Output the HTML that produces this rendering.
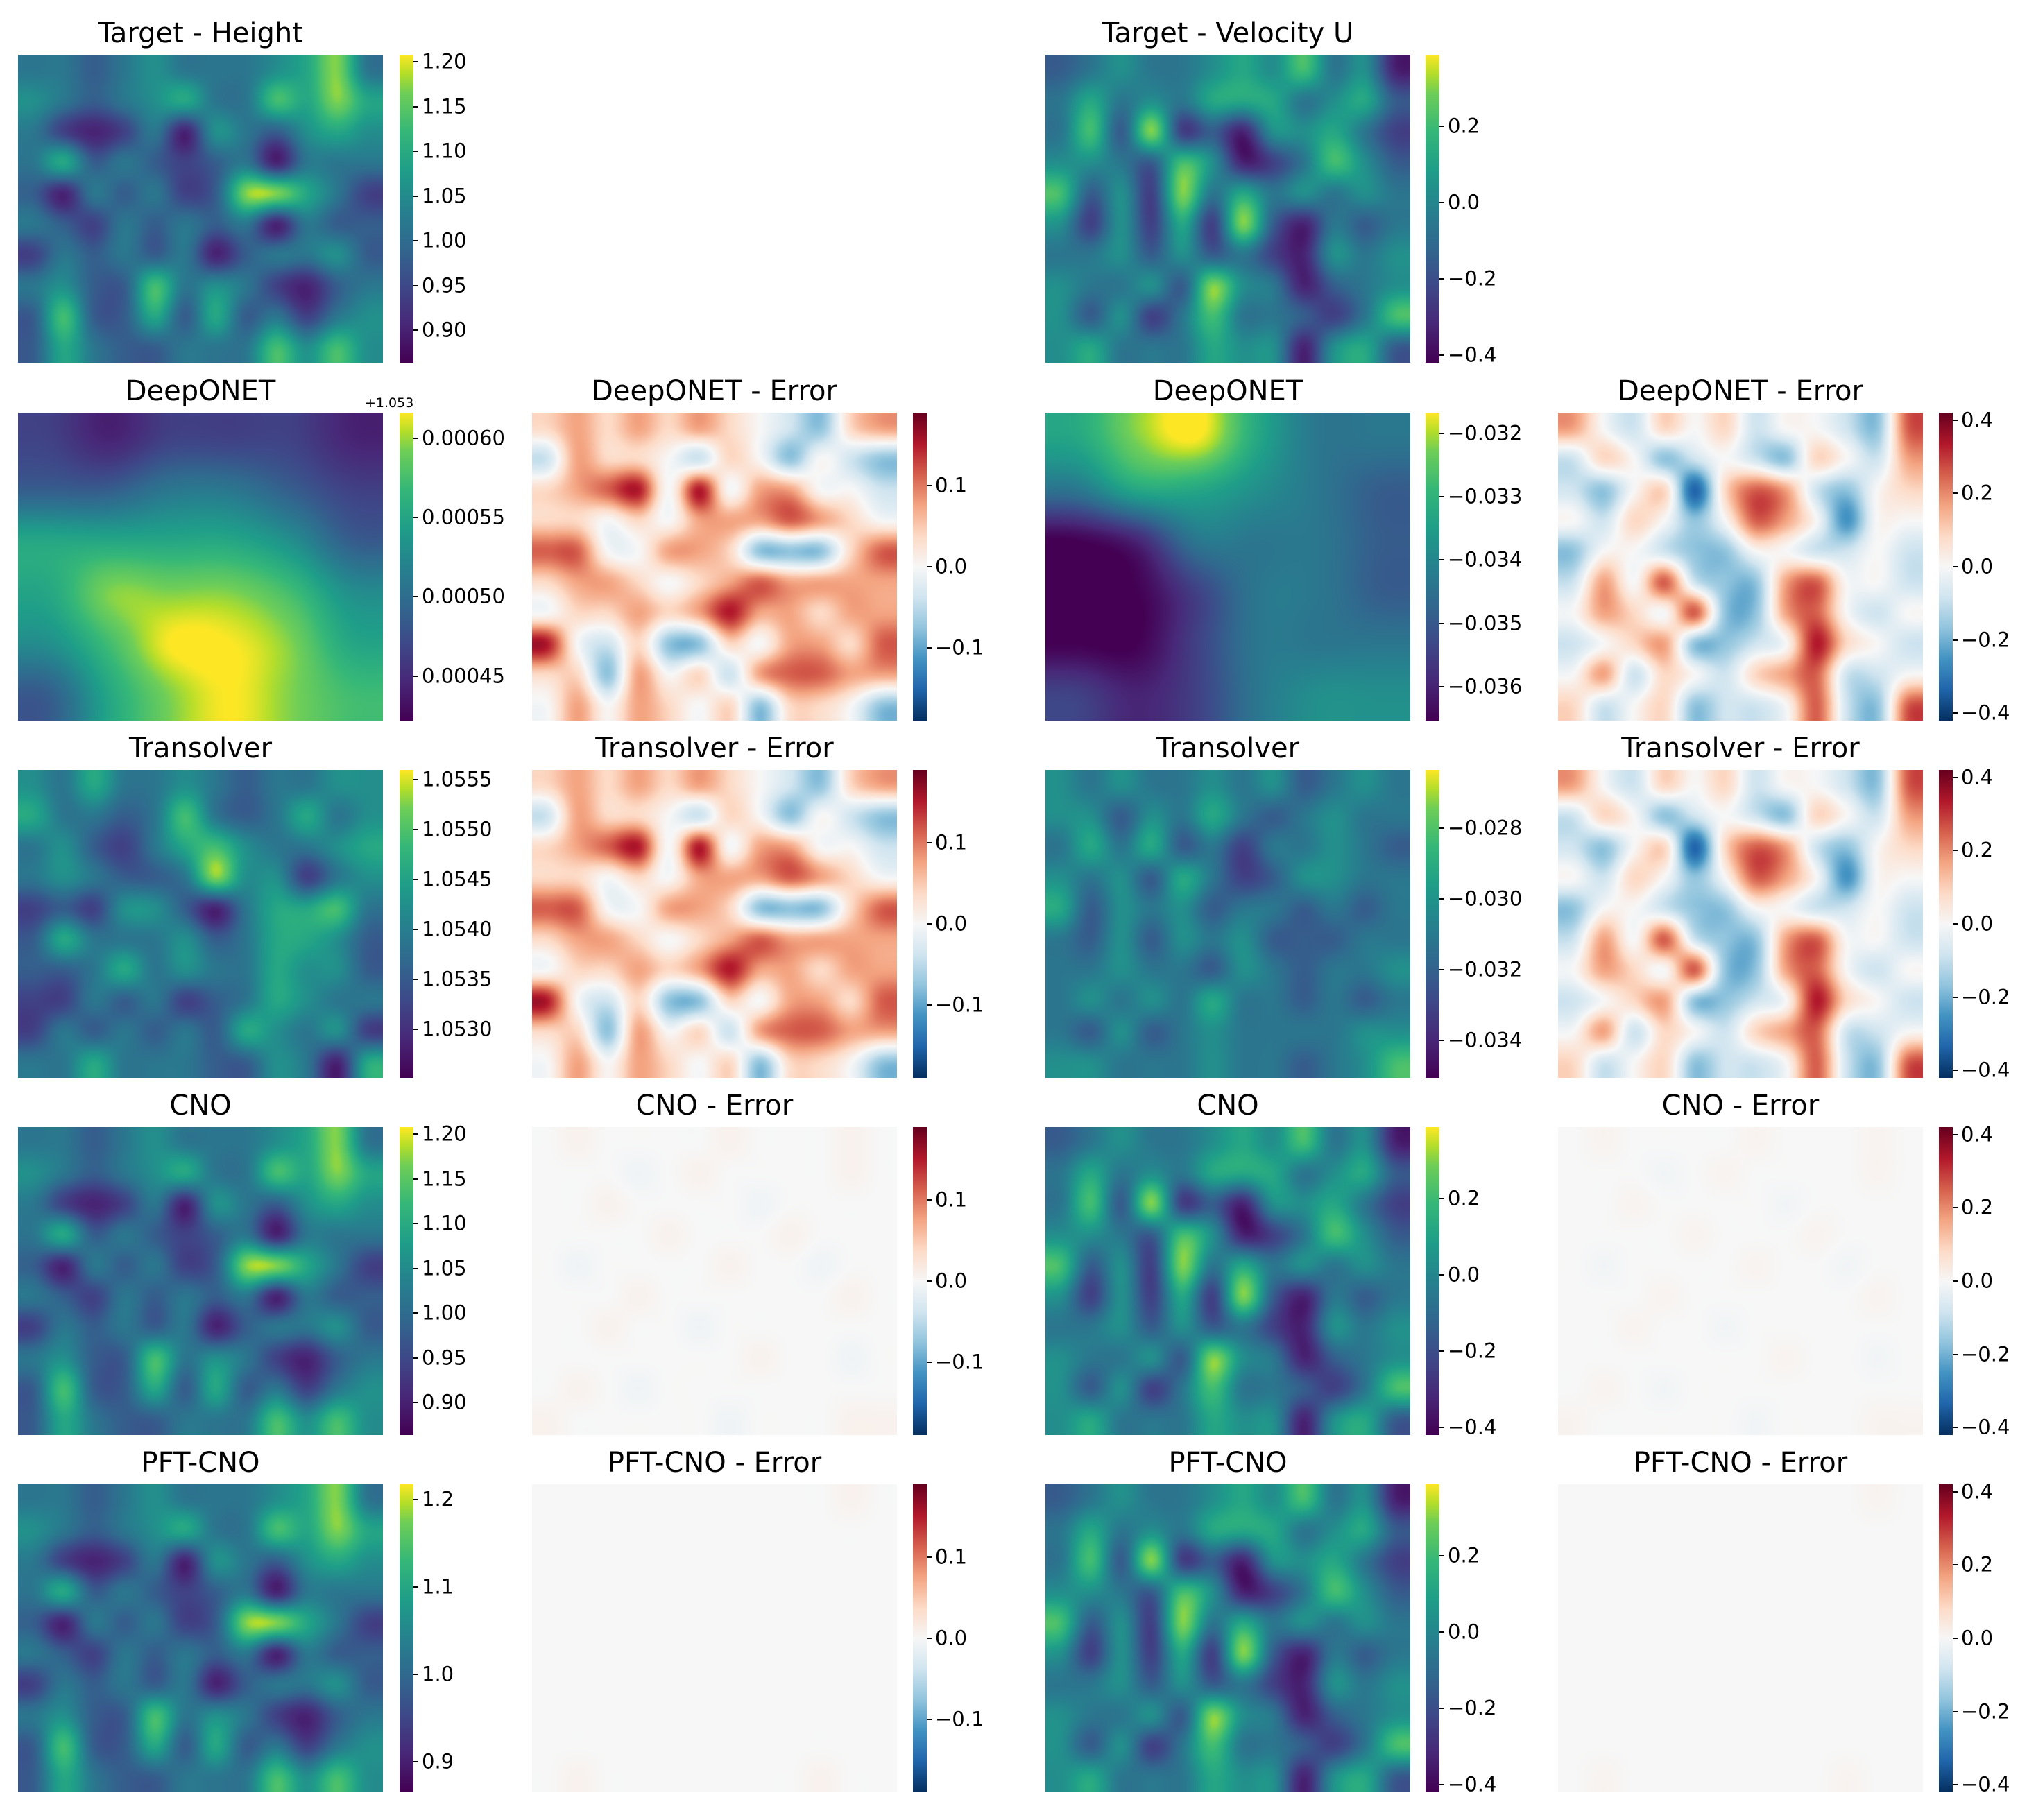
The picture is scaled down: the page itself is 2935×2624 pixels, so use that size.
<!DOCTYPE html>
<html><head><meta charset="utf-8">
<style>
html,body{margin:0;padding:0;background:#fff;}
#fig{position:relative;width:2935px;height:2624px;background:#fff;overflow:hidden;font-family:"DejaVu Sans","Liberation Sans",sans-serif;}
.title{position:absolute;font-size:40px;color:#000;text-align:center;white-space:nowrap;transform:translateX(-50%);line-height:1;}
canvas{position:absolute;}
.tick{position:absolute;height:2px;width:7px;background:#000;}
.tlab{position:absolute;font-size:29px;color:#000;white-space:nowrap;line-height:1;transform:translateY(-50%);}
.offset{position:absolute;font-size:19px;color:#000;}
</style></head>
<body>
<div id="fig"></div>
<script>
// ---- data grids (digit 0..9 = colormap level) ----
const targetHeight=["443454445684","543456447686","421241543565","463432341444","314342388642","432434341433","243434134453","453374542134","373363634245","364334447575"];
const targetVelocity=["345445657451","464546664563","473823155642","554375124753","735284645454","525262831434","445353421545","544538541345","535247443247","564446551563"];
const deeponetHeight=["212221","334432","666653","688875","579986","368987"];
const deeponetHeightError=["676767654367","476654653543","678959577554","665657778765","885577633368","677656787777","566767977677","954633657768","663756478877","575765636653"];
const deeponetVelocity=["689644","466543","014443","002443","002444","212455"];
const deeponetVelocityError=["754656455438","465345436547","435616874356","546535875255","355433554454","475843378554","576583378545","456733459654","574654678445","645634458438"];
const transolverHeight=["546445434455","644347434645","453246754456","454334855245","232553146674","364445346653","334645446553","224342346544","243434365452","446444335416"];
const transolverHeightError=["676767654367","476654653543","678959577554","665657778765","885577633368","677656787777","566767977677","954633657768","663756478877","575765636653"];
const transolverVelocity=["545445453454","553546434544","464634244543","545364235544","635453443434","435354533344","445443543445","454546443434","435345444455","554445443457"];
const transolverVelocityError=["754656455438","465345436547","435616874356","546535875255","355433554454","475843378554","576583378545","456733459654","574654678445","645634458438"];
const cnoHeight=targetHeight.slice();
const cnoVelocity=targetVelocity.slice();
const cnoError=["565555655565","555456555565","556555545555","555565556555","545555655455","555655555565","556554555555","555555565545","565455555555","655555455566"];
const pftHeight=targetHeight.slice();
const pftVelocity=targetVelocity.slice();
const pftError=["555555555565","555555555555","555555555555","555555555555","555555555555","555555555555","555555555555","555555555555","555555555555","565555555655"];

// colorbar ranges and ticks
const cbHeight={vmin:0.8636,vmax:1.2078,ticks:[0.90,0.95,1.00,1.05,1.10,1.15,1.20],labels:["0.90","0.95","1.00","1.05","1.10","1.15","1.20"]};
const cbVelocity={vmin:-0.42,vmax:0.387,ticks:[-0.4,-0.2,0.0,0.2],labels:["\u22120.4","\u22120.2","0.0","0.2"]};
const cbDeepH={vmin:0.000422,vmax:0.000616,ticks:[0.00045,0.0005,0.00055,0.0006],labels:["0.00045","0.00050","0.00055","0.00060"]};
const cbErrH={vmin:-0.19,vmax:0.19,ticks:[-0.1,0,0.1],labels:["\u22120.1","0.0","0.1"]};
const cbDeepU={vmin:-0.03654,vmax:-0.03167,ticks:[-0.036,-0.035,-0.034,-0.033,-0.032],labels:["\u22120.036","\u22120.035","\u22120.034","\u22120.033","\u22120.032"]};
const cbErrU={vmin:-0.42,vmax:0.42,ticks:[-0.4,-0.2,0,0.2,0.4],labels:["\u22120.4","\u22120.2","0.0","0.2","0.4"]};
const cbTransH={vmin:1.05251,vmax:1.0556,ticks:[1.053,1.0535,1.054,1.0545,1.055,1.0555],labels:["1.0530","1.0535","1.0540","1.0545","1.0550","1.0555"]};
const cbTransU={vmin:-0.03506,vmax:-0.02635,ticks:[-0.034,-0.032,-0.030,-0.028],labels:["\u22120.034","\u22120.032","\u22120.030","\u22120.028"]};
const cbPftH={vmin:0.865,vmax:1.2175,ticks:[0.9,1.0,1.1,1.2],labels:["0.9","1.0","1.1","1.2"]};

// ---- layout ----
const colX=[26,767,1507,2246], cbX=[576,1316,2055,2795];
const rowY=[79,595,1110,1625,2140];
const PW=526, PH=444, CBW=20;

const viridis=[[0,"#440154"],[0.125,"#482878"],[0.25,"#3e4989"],[0.375,"#31688e"],[0.5,"#26828e"],[0.625,"#1f9e89"],[0.75,"#35b779"],[0.875,"#6ece58"],[0.94,"#b5de2b"],[1,"#fde725"]];
const rdbu=[[0,"#053061"],[0.1,"#2166ac"],[0.2,"#4393c3"],[0.3,"#92c5de"],[0.4,"#d1e5f0"],[0.5,"#f7f7f7"],[0.6,"#fddbc7"],[0.7,"#f4a582"],[0.8,"#d6604d"],[0.9,"#b2182b"],[1,"#67001f"]];
function hex(h){return [parseInt(h.substr(1,2),16),parseInt(h.substr(3,2),16),parseInt(h.substr(5,2),16)];}
function cmap(stops,t){t=Math.max(0,Math.min(1,t));for(let i=1;i<stops.length;i++){if(t<=stops[i][0]){const a=stops[i-1],b=stops[i];const f=(t-a[0])/(b[0]-a[0]);const ca=hex(a[1]),cb=hex(b[1]);return [ca[0]+(cb[0]-ca[0])*f,ca[1]+(cb[1]-ca[1])*f,ca[2]+(cb[2]-ca[2])*f];}}return hex(stops[stops.length-1][1]);}

const fig=document.getElementById('fig');
function cr(p0,p1,p2,p3,t){return 0.5*((2*p1)+(-p0+p2)*t+(2*p0-5*p1+4*p2-p3)*t*t+(-p0+3*p1-3*p2+p3)*t*t*t);}
function drawField(name,x,y,grid,kind,amp){
  const c=document.createElement('canvas');c.width=PW;c.height=PH;c.style.left=x+'px';c.style.top=y+'px';
  
  
  fig.appendChild(c);
  const ctx=c.getContext('2d');const img=ctx.createImageData(PW,PH);
  const R=grid.length,C=grid[0].length;
  const v=grid.map(r=>r.split('').map(Number));
  const g=(r,cc)=>v[Math.max(0,Math.min(R-1,r))][Math.max(0,Math.min(C-1,cc))];
  const stops=kind==='div'?rdbu:viridis;
  for(let py=0;py<PH;py++){const gy=(py+0.5)/PH*R-0.5;const y0=Math.floor(gy);const fy=gy-y0;
    for(let px=0;px<PW;px++){const gx=(px+0.5)/PW*C-0.5;const x0=Math.floor(gx);const fx=gx-x0;
      const rows=[];for(let k=-1;k<=2;k++){rows.push(cr(g(y0+k,x0-1),g(y0+k,x0),g(y0+k,x0+1),g(y0+k,x0+2),fx));}
      const d=cr(rows[0],rows[1],rows[2],rows[3],fy);
      const t=kind==='div'?0.5+(d-5)*amp:d/9;
      const col=cmap(stops,t);const i=(py*PW+px)*4;img.data[i]=col[0];img.data[i+1]=col[1];img.data[i+2]=col[2];img.data[i+3]=255;}}
  ctx.putImageData(img,0,0);
}
function drawCB(name,x,y,cb,kind){
  const c=document.createElement('canvas');c.width=CBW;c.height=PH;c.style.left=x+'px';c.style.top=y+'px';
  
  
  fig.appendChild(c);
  const ctx=c.getContext('2d');const stops=kind==='div'?rdbu:viridis;
  for(let py=0;py<PH;py++){const col=cmap(stops,1-py/(PH-1));ctx.fillStyle=`rgb(${col[0]|0},${col[1]|0},${col[2]|0})`;ctx.fillRect(0,py,CBW,1);}
  cb.ticks.forEach((tv,i)=>{
    const ty=y+(cb.vmax-tv)/(cb.vmax-cb.vmin)*PH;
    const tk=document.createElement('div');tk.className='tick';tk.style.left=(x+CBW)+'px';tk.style.top=(ty-1)+'px';
    
    
    fig.appendChild(tk);
    const lb=document.createElement('div');lb.className='tlab';lb.style.left=(x+CBW+12)+'px';lb.style.top=ty+'px';lb.textContent=cb.labels[i];
    
    
    fig.appendChild(lb);
  });
}
function title(text,cx,y){const d=document.createElement('div');d.className='title';d.style.left=cx+'px';d.style.top=(y-51)+'px';d.textContent=text;
  
  
  fig.appendChild(d);}
function panel(r,c,t,grid,kind,amp,cb,name){
  title(t,colX[c]+PW/2,rowY[r]);
  drawField(name,colX[c],rowY[r],grid,kind,amp);
  drawCB(name+'-colorbar',cbX[c],rowY[r],cb,kind);
}
panel(0,0,"Target - Height",targetHeight,'seq',0,cbHeight,'target-height-map');
panel(0,2,"Target - Velocity U",targetVelocity,'seq',0,cbVelocity,'target-velocity-map');
panel(1,0,"DeepONET",deeponetHeight,'seq',0,cbDeepH,'deeponet-height-map');
panel(1,1,"DeepONET - Error",deeponetHeightError,'div',0.1,cbErrH,'deeponet-height-error-map');
panel(1,2,"DeepONET",deeponetVelocity,'seq',0,cbDeepU,'deeponet-velocity-map');
panel(1,3,"DeepONET - Error",deeponetVelocityError,'div',0.1,cbErrU,'deeponet-velocity-error-map');
panel(2,0,"Transolver",transolverHeight,'seq',0,cbTransH,'transolver-height-map');
panel(2,1,"Transolver - Error",transolverHeightError,'div',0.1,cbErrH,'transolver-height-error-map');
panel(2,2,"Transolver",transolverVelocity,'seq',0,cbTransU,'transolver-velocity-map');
panel(2,3,"Transolver - Error",transolverVelocityError,'div',0.1,cbErrU,'transolver-velocity-error-map');
panel(3,0,"CNO",cnoHeight,'seq',0,cbHeight,'cno-height-map');
panel(3,1,"CNO - Error",cnoError,'div',0.02,cbErrH,'cno-height-error-map');
panel(3,2,"CNO",cnoVelocity,'seq',0,cbVelocity,'cno-velocity-map');
panel(3,3,"CNO - Error",cnoError,'div',0.015,cbErrU,'cno-velocity-error-map');
panel(4,0,"PFT-CNO",pftHeight,'seq',0,cbPftH,'pft-cno-height-map');
panel(4,1,"PFT-CNO - Error",pftError,'div',0.02,cbErrH,'pft-cno-height-error-map');
panel(4,2,"PFT-CNO",pftVelocity,'seq',0,cbVelocity,'pft-cno-velocity-map');
panel(4,3,"PFT-CNO - Error",pftError,'div',0.015,cbErrU,'pft-cno-velocity-error-map');
const off=document.createElement('div');off.className='offset';off.style.left='526px';off.style.top='570px';off.textContent='+1.053';


fig.appendChild(off);
</script>
</body></html>
